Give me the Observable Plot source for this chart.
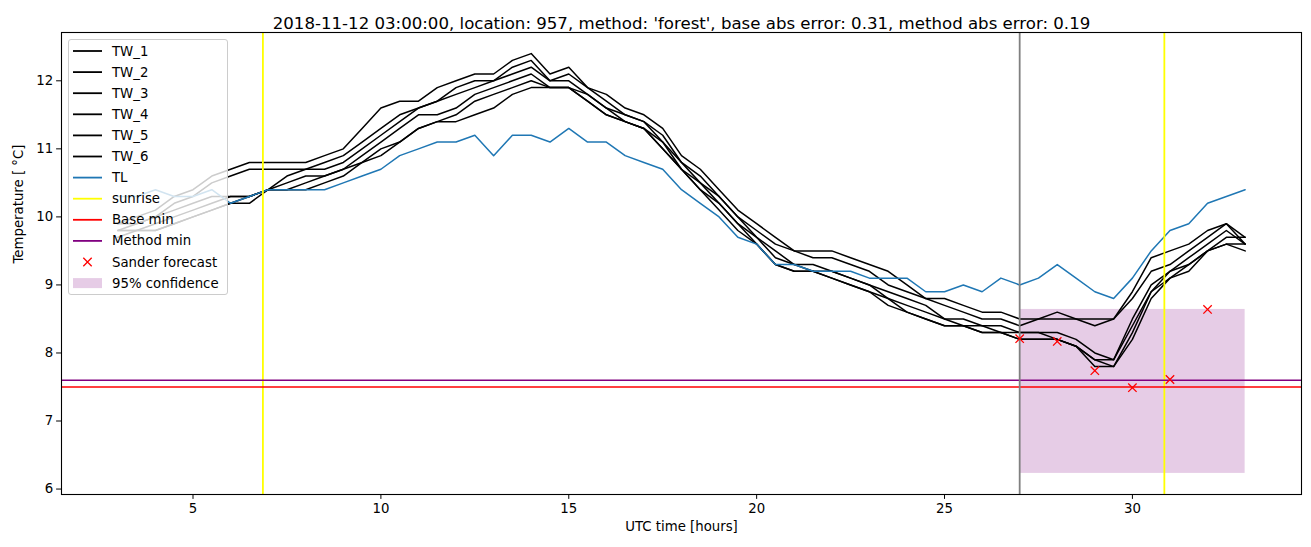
<!DOCTYPE html>
<html>
<head>
<meta charset="utf-8">
<script src="https://cdn.jsdelivr.net/npm/d3@7"></script>
<script src="https://cdn.jsdelivr.net/npm/@observablehq/plot@0.6"></script>
<style>
  body { margin: 0; background: #fff; font-family: "DejaVu Sans", sans-serif; }
  #wrap { position: relative; width: 1311px; height: 547px; }
  #legend { position: absolute; left: 68px; top: 39px; width: 160px; height: 256px; box-sizing: border-box;
            background: rgba(255,255,255,0.8); border: 1px solid #cccccc; border-radius: 3px; }
  #legend svg { position: absolute; left: -1px; top: -1px; }
</style>
</head>
<body>
<div id="wrap"><div id="legend"></div></div>
<script>
// ---- data ----
const title = "2018-11-12 03:00:00, location: 957, method: 'forest', base abs error: 0.31, method abs error: 0.19";
const xLabel = "UTC time [hours]";
const yLabel = "Temperature [ °C]";
const xTicks = [5, 10, 15, 20, 25, 30];
const yTicks = [6, 7, 8, 9, 10, 11, 12];

const hours = [3.0,3.5,4.0,4.5,5.0,5.5,6.0,6.5,7.0,7.5,
               8.0,8.5,9.0,9.5,10.0,10.5,11.0,11.5,12.0,12.5,
               13.0,13.5,14.0,14.5,15.0,15.5,16.0,16.5,17.0,17.5,
               18.0,18.5,19.0,19.5,20.0,20.5,21.0,21.5,22.0,22.5,
               23.0,23.5,24.0,24.5,25.0,25.5,26.0,26.5,27.0,27.5,
               28.0,28.5,29.0,29.5,30.0,30.5,31.0,31.5,32.0,32.5,
               33.0];

const TW_1 = [9.9,10.0,10.1,10.3,10.4,10.6,10.7,10.8,10.8,10.8,
              10.8,10.9,11.0,11.3,11.6,11.7,11.7,11.9,12.0,12.1,
              12.1,12.3,12.4,12.1,12.2,11.9,11.8,11.6,11.5,11.3,
              10.9,10.7,10.4,10.1,9.9,9.7,9.5,9.5,9.5,9.4,
              9.3,9.2,9.0,8.8,8.8,8.7,8.6,8.6,8.5,8.5,
              8.6,8.5,8.5,8.5,8.9,9.4,9.5,9.6,9.8,9.9,
              9.7];
const TW_2 = [9.8,9.9,10.0,10.2,10.3,10.5,10.6,10.7,10.7,10.7,
              10.7,10.8,10.9,11.1,11.3,11.5,11.6,11.7,11.9,12.0,
              12.0,12.2,12.3,12.0,12.1,11.9,11.7,11.5,11.4,11.2,
              10.8,10.6,10.3,10.0,9.8,9.6,9.5,9.4,9.4,9.3,
              9.2,9.0,8.9,8.8,8.7,8.6,8.5,8.5,8.4,8.5,
              8.5,8.5,8.4,8.5,8.8,9.2,9.3,9.5,9.7,9.9,
              9.6];
const TW_3 = [9.9,9.9,10.0,10.1,10.2,10.3,10.3,10.3,10.4,10.6,
              10.7,10.7,10.8,11.0,11.2,11.4,11.6,11.7,11.8,11.9,
              12.0,12.1,12.2,12.0,12.0,11.8,11.6,11.5,11.4,11.1,
              10.8,10.5,10.3,10.0,9.7,9.5,9.3,9.3,9.2,9.1,
              9.0,8.9,8.8,8.7,8.5,8.5,8.4,8.4,8.3,8.3,
              8.3,8.2,8.0,7.9,8.5,9.0,9.2,9.4,9.6,9.8,
              9.6];
const TW_4 = [9.8,9.8,9.9,10.0,10.1,10.2,10.3,10.3,10.4,10.5,
              10.6,10.6,10.7,10.9,11.1,11.3,11.5,11.5,11.6,11.8,
              11.9,12.0,12.1,11.9,11.9,11.8,11.6,11.4,11.3,11.1,
              10.7,10.5,10.2,9.9,9.7,9.4,9.3,9.2,9.2,9.1,
              9.0,8.8,8.7,8.6,8.5,8.4,8.4,8.3,8.3,8.3,
              8.2,8.1,7.9,7.9,8.4,8.9,9.2,9.3,9.5,9.7,
              9.7];
const TW_5 = [9.7,9.8,9.8,9.9,10.0,10.1,10.2,10.2,10.4,10.4,
              10.5,10.6,10.7,10.8,11.0,11.1,11.3,11.4,11.5,11.7,
              11.8,11.9,12.0,11.9,11.9,11.7,11.5,11.4,11.3,11.0,
              10.7,10.4,10.2,9.9,9.6,9.3,9.2,9.2,9.1,9.0,
              8.9,8.8,8.6,8.5,8.4,8.4,8.3,8.3,8.2,8.2,
              8.2,8.1,7.9,7.8,8.3,8.9,9.1,9.3,9.5,9.6,
              9.5];
const TW_6 = [9.8,9.8,9.8,9.9,10.0,10.1,10.2,10.3,10.4,10.4,
              10.4,10.5,10.6,10.8,10.9,11.1,11.3,11.4,11.4,11.5,
              11.6,11.8,11.9,11.9,11.9,11.7,11.5,11.4,11.3,11.0,
              10.7,10.4,10.1,9.8,9.6,9.3,9.2,9.2,9.1,9.0,
              8.9,8.7,8.6,8.5,8.4,8.4,8.3,8.3,8.2,8.2,
              8.2,8.1,7.8,7.8,8.2,8.8,9.1,9.2,9.5,9.6,
              9.6];
const TL   = [10.3,10.3,10.4,10.3,10.3,10.4,10.2,10.3,10.4,10.4,
              10.4,10.4,10.5,10.6,10.7,10.9,11.0,11.1,11.1,11.2,
              10.9,11.2,11.2,11.1,11.3,11.1,11.1,10.9,10.8,10.7,
              10.4,10.2,10.0,9.7,9.6,9.3,9.3,9.2,9.2,9.2,
              9.1,9.1,9.1,8.9,8.9,9.0,8.9,9.1,9.0,9.1,
              9.3,9.1,8.9,8.8,9.1,9.5,9.8,9.9,10.2,10.3,
              10.4];

const twNames = ["TW_1", "TW_2", "TW_3", "TW_4", "TW_5", "TW_6"];
const twSeries = [TW_1, TW_2, TW_3, TW_4, TW_5, TW_6];

const sunriseHours = [6.86, 30.85];
const forecastStart = [27.0];
const baseMin = 7.5;
const methodMin = 7.6;

const sanderHours = [27, 28, 29, 30, 31, 32];
const sanderTemps = [8.21, 8.17, 7.74, 7.49, 7.61, 8.64];

const confHours = [27, 33];
const confTemps = [6.23, 8.64];

const legendLabels = ["TW_1","TW_2","TW_3","TW_4","TW_5","TW_6","TL","sunrise","Base min","Method min","Sander forecast","95% confidence"];
const legendColors = ["black","black","black","black","black","black","#1f77b4","yellow","red","purple","red","purple"];

// ---- tables ----
const twRows = [];
twSeries.forEach((vals, k) => vals.forEach((v, i) => twRows.push({h: hours[i], T: v, s: twNames[k]})));
const tlRows = TL.map((v, i) => ({h: hours[i], T: v}));
const sander = sanderHours.map((h, i) => ({h, T: sanderTemps[i]}));
const conf = [{x1: confHours[0], x2: confHours[1], y1: confTemps[0], y2: confTemps[1]}];

const font = "DejaVu Sans, sans-serif";

const chart = Plot.plot({
  width: 1311, height: 547,
  marginLeft: 61, marginRight: 10, marginTop: 32, marginBottom: 53,
  x: {domain: [1.5, 34.5]},
  y: {domain: [5.92, 12.71]},
  style: {fontFamily: font, fontSize: "13.3px", color: "black", background: "white", overflow: "visible"},
  marks: [
    Plot.rect(conf, {x1: "x1", x2: "x2", y1: "y1", y2: "y2", fill: "purple", fillOpacity: 0.2}),
    Plot.line(twRows, {x: "h", y: "T", z: "s", stroke: "black", strokeWidth: 1.5}),
    Plot.line(tlRows, {x: "h", y: "T", stroke: "#1f77b4", strokeWidth: 1.5}),
    Plot.ruleX(sunriseHours, {stroke: "yellow", strokeWidth: 1.8}),
    Plot.ruleY([baseMin], {stroke: "red", strokeWidth: 1.6}),
    Plot.ruleY([methodMin], {stroke: "purple", strokeWidth: 1.6}),
    Plot.ruleX(forecastStart, {stroke: "gray", strokeWidth: 1.8}),
    Plot.dot(sander, {x: "h", y: "T", symbol: "times", stroke: "red", r: 3.9, strokeWidth: 1.3}),
    Plot.frame({stroke: "black", strokeWidth: 1.1}),
    Plot.axisX({ticks: xTicks, tickSize: 4.9, tickPadding: 4, tickFormat: "d", label: null, fontSize: 13.3}),
    Plot.axisY({ticks: yTicks, tickSize: 4.9, tickPadding: 3.5, tickFormat: "d", label: null, fontSize: 13.3}),
    Plot.text([title], {frameAnchor: "top", dy: -15, fontSize: 16.6}),
    Plot.text([xLabel], {frameAnchor: "bottom", dy: 36, fontSize: 13.3}),
    Plot.text([yLabel], {frameAnchor: "left", dx: -43, rotate: -90, fontSize: 13.3})
  ]
});
document.getElementById("wrap").insertBefore(chart, document.getElementById("legend"));

// ---- legend ----
const ns = "http://www.w3.org/2000/svg";
const lsvg = document.createElementNS(ns, "svg");
lsvg.setAttribute("width", 160); lsvg.setAttribute("height", 256);
legendLabels.forEach((lab, i) => {
  const cy = 12 + 21.1 * i;
  if (lab === "Sander forecast") {
    const d = 4.2;
    const p = document.createElementNS(ns, "path");
    p.setAttribute("d", `M${19.5-d},${cy-d}L${19.5+d},${cy+d}M${19.5-d},${cy+d}L${19.5+d},${cy-d}`);
    p.setAttribute("stroke", "red"); p.setAttribute("stroke-width", 1.3);
    lsvg.appendChild(p);
  } else if (lab === "95% confidence") {
    const r = document.createElementNS(ns, "rect");
    r.setAttribute("x", 5); r.setAttribute("y", cy - 5); r.setAttribute("width", 29); r.setAttribute("height", 10);
    r.setAttribute("fill", "purple"); r.setAttribute("fill-opacity", 0.2);
    lsvg.appendChild(r);
  } else {
    const l = document.createElementNS(ns, "line");
    l.setAttribute("x1", 5); l.setAttribute("x2", 34); l.setAttribute("y1", cy); l.setAttribute("y2", cy);
    l.setAttribute("stroke", legendColors[i]); l.setAttribute("stroke-width", 1.8);
    lsvg.appendChild(l);
  }
  const t = document.createElementNS(ns, "text");
  t.setAttribute("x", 44); t.setAttribute("y", cy);
  t.setAttribute("dominant-baseline", "central");
  t.setAttribute("font-family", font); t.setAttribute("font-size", "13.3px");
  t.textContent = lab;
  lsvg.appendChild(t);
});
document.getElementById("legend").appendChild(lsvg);
</script>
</body>
</html>
